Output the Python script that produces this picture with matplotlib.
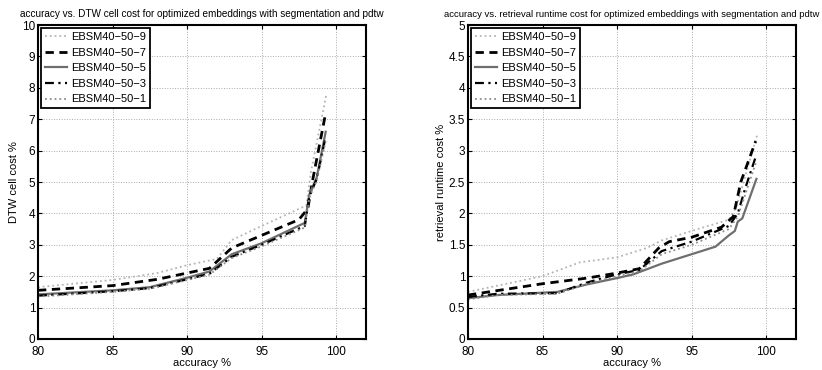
import numpy as np
import matplotlib
matplotlib.use("Agg")
import matplotlib.pyplot as plt

plt.rcParams['font.family'] = ['Liberation Sans Narrow', 'Liberation Sans', 'DejaVu Sans']

labels = ['EBSM40\u221250\u22129', 'EBSM40\u221250\u22127', 'EBSM40\u221250\u22125',
          'EBSM40\u221250\u22123', 'EBSM40\u221250\u22121']

# left panel: accuracy vs DTW cell cost
dtw_x9 = [80, 85, 88, 90, 92, 93, 95, 98, 98.3, 99.35]
dtw_y9 = [1.65, 1.88, 2.1, 2.35, 2.55, 3.15, 3.6, 4.25, 5.3, 7.8]
dtw_x7 = [80, 85, 88, 90, 91.5, 93, 95, 97.5, 98.1, 98.4, 99.3]
dtw_y7 = [1.55, 1.7, 1.9, 2.1, 2.25, 2.9, 3.3, 3.8, 4.15, 5.0, 7.2]
dtw_x5 = [80, 85, 87.5, 90, 91.5, 93, 95, 97.9, 98.2, 98.7, 99.3]
dtw_y5 = [1.42, 1.55, 1.65, 1.95, 2.15, 2.7, 3.05, 3.7, 4.6, 5.15, 6.6]
dtw_x3 = [80, 85, 87.5, 90, 91.5, 93, 95, 97.9, 98.2, 98.7, 99.3]
dtw_y3 = [1.38, 1.52, 1.62, 1.9, 2.08, 2.62, 3.0, 3.6, 4.55, 5.1, 6.45]
dtw_x1 = [80, 85, 87.5, 90, 91.5, 93, 95, 97.9, 98.2, 98.7, 99.3]
dtw_y1 = [1.35, 1.5, 1.6, 1.88, 2.05, 2.58, 2.95, 3.55, 4.5, 5.05, 6.3]

# right panel: accuracy vs retrieval runtime cost
rt_x9 = [80, 85, 87.5, 90, 92, 93, 95, 97.5, 98, 99.4]
rt_y9 = [0.75, 1.0, 1.22, 1.3, 1.45, 1.57, 1.72, 1.9, 2.1, 3.25]
rt_x7 = [80, 85, 88, 90, 91.5, 92.8, 93.5, 95, 97, 97.8, 98.3, 99.3]
rt_y7 = [0.7, 0.88, 0.97, 1.05, 1.12, 1.45, 1.55, 1.62, 1.78, 1.95, 2.5, 3.15]
rt_x5 = [80, 82, 86, 88, 90, 91.1, 93, 96.6, 97.5, 97.9, 98.1, 98.4, 99.35]
rt_y5 = [0.65, 0.7, 0.75, 0.87, 0.97, 1.03, 1.2, 1.47, 1.65, 1.72, 1.87, 1.92, 2.55]
rt_x3 = [80, 82, 86, 88, 90, 91.5, 93, 95, 97.5, 98.1, 98.6, 99.3]
rt_y3 = [0.67, 0.72, 0.73, 0.9, 1.03, 1.1, 1.4, 1.55, 1.8, 2.0, 2.4, 2.9]
rt_x1 = [80, 82, 86, 88, 90, 91.5, 93, 95, 97.5, 98.1, 98.6, 99.3]
rt_y1 = [0.63, 0.7, 0.72, 0.88, 1.0, 1.08, 1.35, 1.5, 1.75, 1.95, 2.3, 2.8]

styles = [
    dict(color='#b4b4b4', linestyle=':', linewidth=1.3),
    dict(color='black', linestyle=(0, (3, 2)), linewidth=2.0),
    dict(color='#6e6e6e', linestyle='-', linewidth=1.6),
    dict(color='black', linestyle=(0, (4, 2, 1, 2)), linewidth=1.6),
    dict(color='#8c8c8c', linestyle=':', linewidth=1.3),
]

fig = plt.figure(figsize=(8.22, 3.70), dpi=100)
ax1 = fig.add_axes([0.0462, 0.0838, 0.399, 0.8486])
ax2 = fig.add_axes([0.5693, 0.0838, 0.399, 0.8486])


def draw(ax, xs, ys, ymax, ystep, title, tsize, ylabel):
    for x, y, lab, st in zip(xs, ys, labels, styles):
        ax.plot(x, y, label=lab, **st)
    ax.set_xlim(80, 102)
    ax.set_ylim(0, ymax)
    ax.set_xticks([80, 85, 90, 95, 100])
    ticks = np.arange(0, ymax + ystep / 2, ystep)
    ax.set_yticks(ticks)
    ax.set_yticklabels(['%g' % t for t in ticks])
    ax.grid(True, linestyle=':', color='#aaaaaa', linewidth=0.7)
    ax.tick_params(direction='in', length=3, labelsize=8.5, top=True, right=True)
    ax.tick_params(axis='y', pad=2)
    ax.tick_params(axis='x', pad=5)
    for s in ax.spines.values():
        s.set_linewidth(1.5)
    ax.set_title(title, fontsize=tsize, pad=6)
    ax.set_xlabel('accuracy %', fontsize=8, labelpad=0)
    ax.set_ylabel(ylabel, fontsize=8, labelpad=2)
    leg = ax.legend(loc='upper left', fontsize=8, fancybox=False, framealpha=1,
                    edgecolor='black', borderaxespad=0.3, handlelength=2.0,
                    handletextpad=0.3, labelspacing=0.5, borderpad=0.35)
    leg.get_frame().set_linewidth(1.3)


draw(ax1, [dtw_x9, dtw_x7, dtw_x5, dtw_x3, dtw_x1],
     [dtw_y9, dtw_y7, dtw_y5, dtw_y3, dtw_y1], 10, 1,
     'accuracy vs. DTW cell cost for optimized embeddings with segmentation and pdtw', 7.2,
     'DTW cell cost %')
draw(ax2, [rt_x9, rt_x7, rt_x5, rt_x3, rt_x1],
     [rt_y9, rt_y7, rt_y5, rt_y3, rt_y1], 5, 0.5,
     'accuracy vs. retrieval runtime cost for optimized embeddings with segmentation and pdtw', 6.8,
     'retrieval runtime cost %')

fig.savefig('out.png', dpi=100)
